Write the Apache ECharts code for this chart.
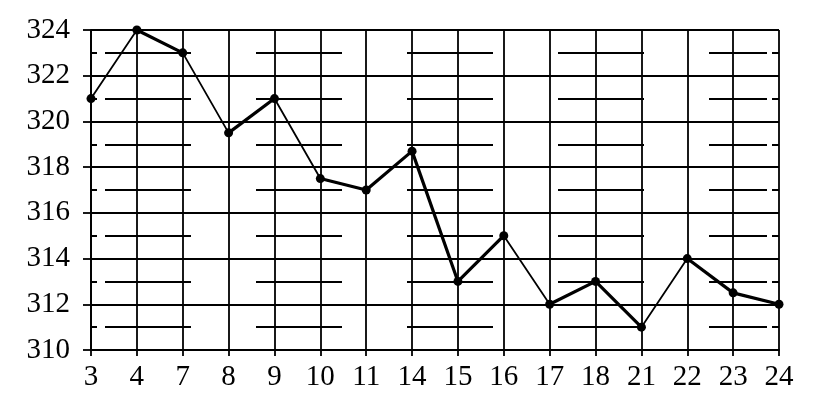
<!DOCTYPE html>
<html><head><meta charset="utf-8">
<script src="https://cdn.jsdelivr.net/npm/echarts@6/dist/echarts.min.js"></script>
<style>html,body{margin:0;padding:0;background:#fff}#c{width:816px;height:414px}</style>
</head><body><div id="c"></div>
<script>
const categories = ['3','4','7','8','9','10','11','14','15','16','17','18','21','22','23','24'];
const values = [321, 324, 323, 319.5, 321, 317.5, 317, 318.7, 313, 315, 312, 313, 311, 314, 312.5, 312];
const yTicks = [310, 312, 314, 316, 318, 320, 322, 324];
// segments drawn with a heavier stroke (index of start point)
const thickSegments = [1, 3, 5, 6, 7, 8, 10, 11, 13, 14];

const font = 'Liberation Serif, Times New Roman, serif';
const series = [{
  type: 'line', data: values, symbol: 'circle', symbolSize: 9,
  lineStyle: { color: '#000', width: 1.8 }, itemStyle: { color: '#000' }, z: 5
}];
thickSegments.forEach(i => {
  series.push({
    type: 'line', symbol: 'none',
    data: values.map((v, j) => (j === i || j === i + 1) ? v : null),
    lineStyle: { color: '#000', width: 3.2 }, z: 4
  });
});

const chart = echarts.init(document.getElementById('c'));
chart.setOption({
  animation: false,
  grid: { left: 91, right: 37, top: 30, bottom: 64, containLabel: false },
  xAxis: {
    type: 'category', data: categories, boundaryGap: false,
    axisLine: { lineStyle: { color: '#000', width: 1.8 } },
    axisTick: { show: true, length: 6, lineStyle: { color: '#000', width: 1.8 } },
    axisLabel: { interval: 0, color: '#000', fontSize: 29, fontFamily: font, margin: 13 },
    splitLine: { show: true, lineStyle: { color: '#000', width: 1.8 } }
  },
  yAxis: {
    type: 'value', min: yTicks[0], max: yTicks[yTicks.length - 1], interval: 2,
    axisLine: { show: true, lineStyle: { color: '#000', width: 1.8 } },
    axisTick: { show: true, length: 8, lineStyle: { color: '#000', width: 1.8 } },
    axisLabel: { color: '#000', fontSize: 29, fontFamily: font, margin: 21 },
    splitLine: { show: true, lineStyle: { color: '#000', width: 1.8 } },
    minorTick: { show: false, splitNumber: 2 },
    minorSplitLine: { show: true, lineStyle: { color: '#000', width: 1.8,
      type: [6, 8, 86, 65, 86, 65, 86, 65, 86, 65, 58, 5, 7, 100] } }
  },
  series: series
});
</script></body></html>
